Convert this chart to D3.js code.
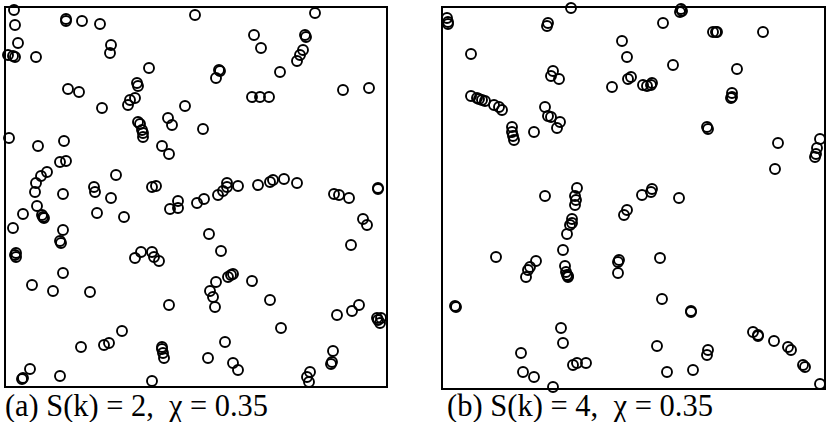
<!DOCTYPE html>
<html><head><meta charset="utf-8">
<script src="https://cdn.jsdelivr.net/npm/d3@7"></script>
<style>body{margin:0;background:#fff}svg{display:block}</style>
</head><body>
<svg id="c" width="830" height="422"></svg>
<script>
// positions in simulation box units (box A: 382 x 380, box B: 383 x 382), y upward
const pointsA = [
[9,377],[10,362],[13,344],[3,332],[8,331],[10,330],[31,330],[61,368],[61,366],[77,366],[95,363],
[106,342],[105,334],[190,372],[144,319],[132,304],[133,301],[130,289],[125,287],[123,282],[63,298],
[74,295],[97,279],[180,281],[163,269],[167,262],[133,265],[135,263],[137,257],[138,254],[138,250],
[198,258],[4,249],[33,241],[59,246],[157,241],[164,233],[55,225],[61,226],[42,215],[36,211],[31,204],
[30,195],[111,212],[89,200],[90,195],[147,200],[151,201],[58,193],[106,189],[173,186],[173,179],[165,178],
[192,184],[199,188],
[310,374],[249,352],[256,339],[300,352],[301,350],[298,337],[295,332],[292,326],[214,317],[215,316],
[211,309],[275,315],[247,290],[255,290],[264,290],[338,297],[364,299],[222,204],[222,200],[218,196],
[213,192],[233,201],[253,202],[265,205],[268,207],[279,208],[292,204],[329,193],[334,192],[344,189],
[373,199],[373,198],
[32,181],[18,173],[37,172],[38,170],[39,169],[8,159],[92,174],[119,170],[58,157],[55,146],[56,144],
[11,134],[10,132],[11,130],[58,114],[27,102],[48,96],[85,95],[130,129],[136,135],[147,135],[149,130],
[154,126],[164,82],[117,56],[99,42],[104,44],[76,40],[157,40],[157,38],[158,34],[159,29],[25,18],
[18,9],[17,8],[55,11],[147,6],
[358,168],[362,162],[346,142],[204,153],[216,136],[223,110],[226,112],[228,113],[211,105],[247,106],
[205,96],[208,90],[210,80],[265,87],[276,59],[332,72],[347,76],[354,82],[372,69],[373,67],[375,64],
[376,69],[220,45],[203,29],[228,24],[233,17],[305,15],[302,10],[304,5],[328,36],[327,25],[326,23]
];
const pointsB = [
[5,371],[6,367],[6,365],[29,335],[129,381],[106,366],[105,363],[180,348],[185,332],[186,310],[189,312],
[170,302],[111,318],[109,313],[117,310],
[29,293],[35,291],[37,290],[40,289],[43,288],[52,284],[57,282],[60,279],
[103,282],[106,273],[109,272],[118,267],[115,261],[70,262],[70,257],[71,253],[72,249],[92,257],
[239,380],[240,378],[238,377],[221,366],[271,357],[274,357],[275,357],[321,357],[231,324],[295,320],
[201,304],[205,303],[210,306],[209,304],[290,296],[290,292],[289,291],[265,262],[266,260],[336,246],
[378,250],[375,241],[374,235],[373,232],[333,220],[210,200],[209,197],[200,194],[237,191],
[103,193],[135,201],[133,193],[134,189],[133,184],[130,170],[130,166],[128,164],[125,155],[121,139],
[123,123],[124,117],[125,114],[126,113],[126,112],[185,179],[182,174],[54,132],[94,128],[88,122],
[86,119],[84,112],[177,129],[176,127],[176,116],[13,83],[14,82],[119,61],[121,46],[79,36],[81,17],
[92,12],[131,24],[135,26],[144,26],[111,2],
[218,131],[220,90],[249,78],[249,77],[215,43],[225,17],[251,19],[266,39],[265,34],[311,57],[316,54],
[316,53],[332,48],[346,42],[349,39],[361,24],[363,22],[378,5]
];
const captions = ["(a) S(k) = 2,  \u03C7 = 0.35", "(b) S(k) = 4,  \u03C7 = 0.35"];
const boxSizes = [[382,380],[383,382]];

const svg = d3.select("#c");
const panels = [
  {pts: pointsA, left: 5, top: 7, w: 382, h: 380, cap: captions[0], size: boxSizes[0], capX: 5, capW: 263},
  {pts: pointsB, left: 442, top: 7, w: 383, h: 382, cap: captions[1], size: boxSizes[1], capX: 447, capW: 266}
];
panels.forEach(p => {
  const x = d3.scaleLinear().domain([0, p.size[0]]).range([p.left, p.left + p.w]);
  const y = d3.scaleLinear().domain([0, p.size[1]]).range([p.top + p.h, p.top]);
  svg.append("rect").attr("x", p.left).attr("y", p.top).attr("width", p.w).attr("height", p.h)
    .attr("fill", "none").attr("stroke", "#000").attr("stroke-width", 2);
  svg.append("g").selectAll("circle").data(p.pts).join("circle")
    .attr("cx", d => x(d[0])).attr("cy", d => y(d[1])).attr("r", 5)
    .attr("fill", "none").attr("stroke", "#000").attr("stroke-width", 1.9);
  svg.append("text").attr("x", p.capX).attr("y", 416)
    .style("font-family", "'Liberation Serif', 'Times New Roman', Times, serif").attr("font-size", 31)
    .attr("textLength", p.capW).attr("lengthAdjust", "spacingAndGlyphs")
    .attr("xml:space", "preserve")
    .text(p.cap);
});
</script>
</body></html>
